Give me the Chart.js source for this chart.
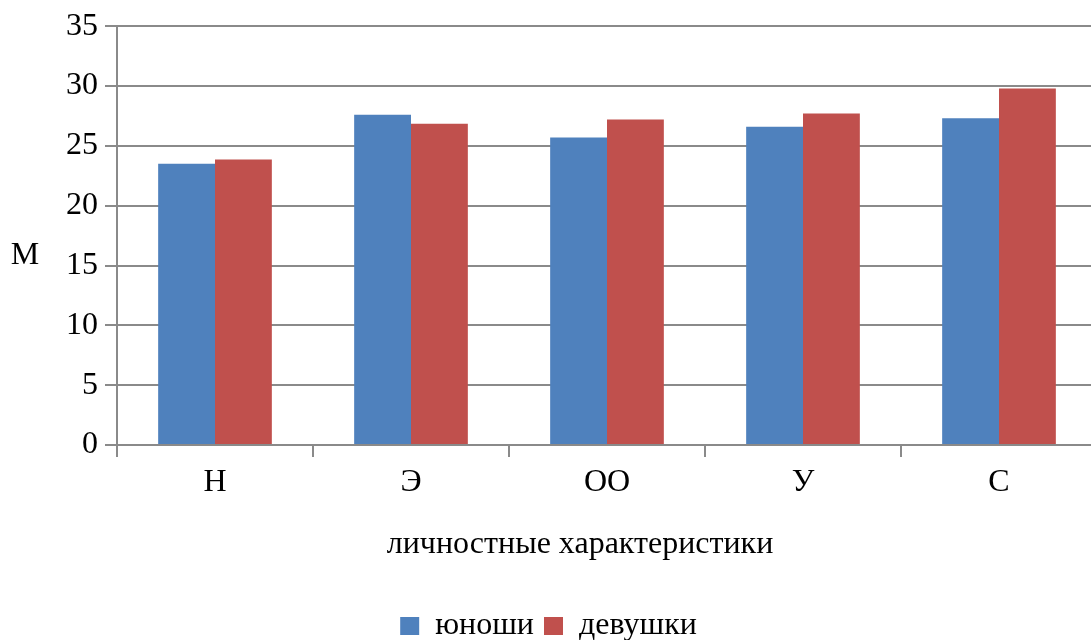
<!DOCTYPE html>
<html>
<head>
<meta charset="utf-8">
<script src="https://cdn.jsdelivr.net/npm/chart.js@4.4.1/dist/chart.umd.min.js"></script>
<style>
  html, body { margin: 0; padding: 0; background: #ffffff; overflow: hidden; }
  #wrap { width: 1091px; height: 640px; overflow: hidden; position: relative; }
  #box { width: 1098px; height: 640px; position: absolute; left: 0; top: 0; }
</style>
</head>
<body>
<div id="wrap"><div id="box"><canvas id="c"></canvas></div></div>
<script>
const categories = ['Н', 'Э', 'ОО', 'У', 'С'];
const boysValues = [23.5, 27.6, 25.7, 26.6, 27.3];
const girlsValues = [23.85, 26.85, 27.2, 27.7, 29.8];
const seriesNames = ['юноши', 'девушки'];
const xTitle = 'личностные характеристики';
const yTitle = 'М';

const FONT = '"Liberation Serif", "Times New Roman", serif';
const FS = 32;
const GRID = '#8a8a8a';

const titlePlugin = {
  id: 'customTitles',
  afterDraw(chart) {
    const ctx = chart.ctx;
    ctx.save();
    ctx.fillStyle = '#000';
    ctx.font = FS + 'px ' + FONT;
    ctx.textAlign = 'center';
    ctx.textBaseline = 'alphabetic';
    ctx.fillText(xTitle, 580, 553);
    ctx.fillText(yTitle, 25, 264);
    ctx.restore();
  }
};

new Chart(document.getElementById('c'), {
  type: 'bar',
  data: {
    labels: categories,
    datasets: [
      { label: seriesNames[0], data: boysValues, backgroundColor: '#4F81BD', borderWidth: 0 },
      { label: seriesNames[1], data: girlsValues, backgroundColor: '#C0504D', borderWidth: 0 }
    ]
  },
  options: {
    responsive: true,
    maintainAspectRatio: false,
    animation: false,
    layout: { padding: { left: 0, right: 1, top: 26, bottom: -12 } },
    datasets: { bar: { categoryPercentage: 0.58, barPercentage: 1.0 } },
    plugins: {
      legend: {
        position: 'bottom',
        labels: {
          color: '#000',
          font: { family: FONT, size: FS },
          boxWidth: 19,
          boxHeight: 18,
          padding: 10
        }
      },
      tooltip: { enabled: false },
      title: { display: false }
    },
    scales: {
      x: {
        grid: { display: true, drawOnChartArea: false, drawTicks: true, tickLength: 12, color: GRID, lineWidth: 2, offset: true },
        border: { display: true, color: GRID, width: 2 },
        ticks: { color: '#000', font: { family: FONT, size: FS }, padding: 6 },
        afterFit(scale) { scale.height = 155; }
      },
      y: {
        min: 0, max: 35,
        ticks: { stepSize: 5, color: '#000', font: { family: FONT, size: FS }, padding: 7 },
        grid: { color: GRID, lineWidth: 2, tickLength: 12, drawTicks: true },
        border: { display: true, color: GRID, width: 2 },
        afterFit(scale) { scale.width = 117; }
      }
    }
  },
  plugins: [titlePlugin]
});
</script>
</body>
</html>
